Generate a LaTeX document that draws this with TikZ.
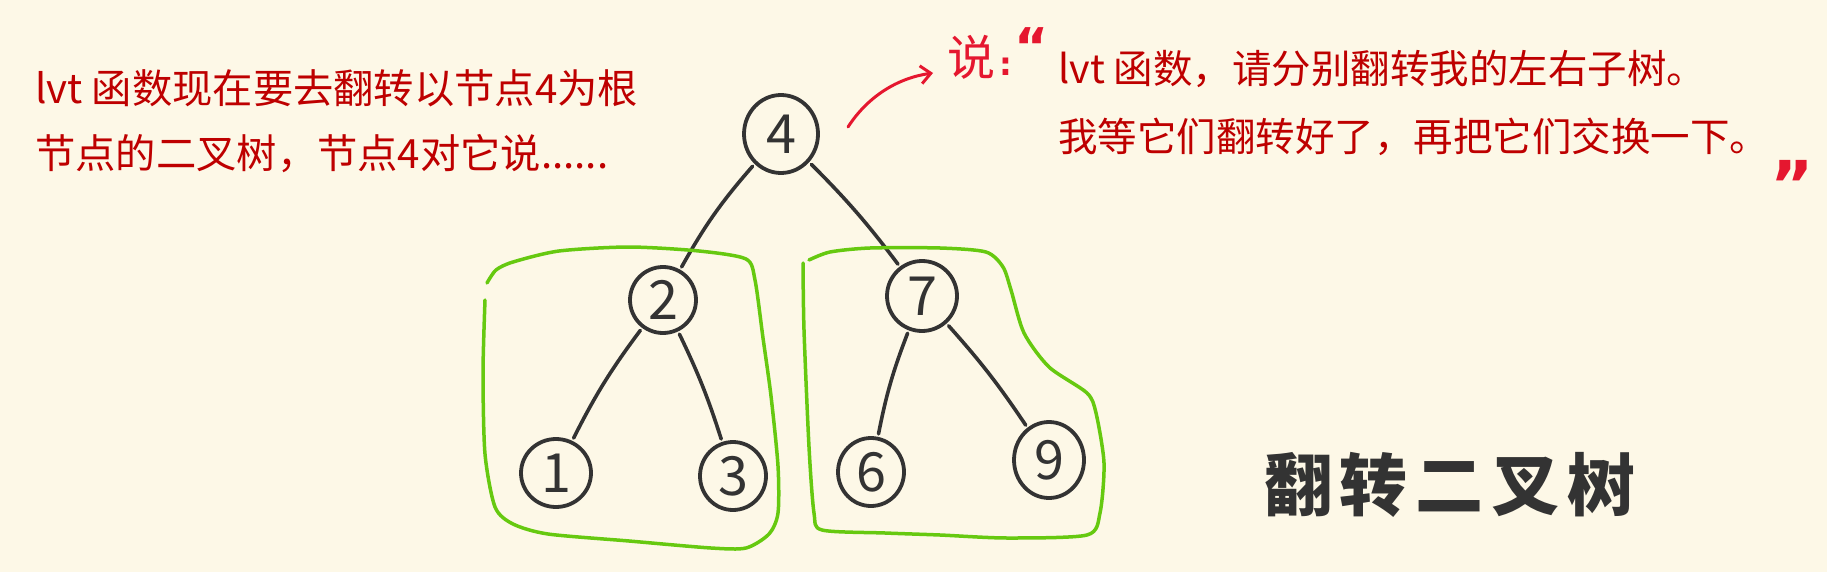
\documentclass[tikz,border=0pt]{standalone}
\usepackage{fontspec}
\setmainfont{Noto Sans CJK SC}
\newfontfamily\cjk{Noto Sans CJK SC}
\newfontfamily\quotefont{DejaVu Sans}
\usetikzlibrary{shapes.geometric,arrows.meta}
\definecolor{bg}{HTML}{FDF8E7}
\definecolor{txtred}{HTML}{BE0000}
\definecolor{hred}{HTML}{E5172F}
\definecolor{ink}{HTML}{333333}
\definecolor{boxgreen}{HTML}{66C910}
\begin{document}
\begin{tikzpicture}[x=1pt,y=-1pt,
  treenode/.style={draw=ink, line width=3.8pt, ellipse, inner sep=0pt, text=ink, font=\cjk\fontsize{54}{54}\selectfont},
  edge/.style={draw=ink, line width=3.6pt, line cap=round, shorten >=3pt, shorten <=3pt},
  grp/.style={draw=boxgreen, line width=3.5pt, line cap=round, line join=round},
  say/.style={text=txtred, font=\cjk\fontsize{40.3}{40.3}\selectfont, anchor=west, inner sep=0pt},
  hand/.style={text=hred, inner sep=0pt},
  title/.style={text=ink, inner sep=0pt, font=\cjk\bfseries\fontsize{68}{68}\selectfont},
]
\fill[bg] (0,0) rectangle (1827,572);
\useasboundingbox (0,0) rectangle (1827,572);

% left text
\node[say] (l1) at (35,88) {lvt 函数现在要去翻转以节点4为根};
\node[say] (l2) at (35,154) {节点的二叉树，节点4对它说......};

% right text
\node[say, font=\cjk\fontsize{39.5}{39.5}\selectfont] (r1) at (1058,69) {lvt 函数，请分别翻转我的左右子树。};
\node[say, font=\cjk\fontsize{39.5}{39.5}\selectfont] (r2) at (1058,137) {我等它们翻转好了，再把它们交换一下。};
\node[hand, font=\cjk\fontsize{48}{48}\selectfont] (shuo) at (971,57) {说};
\node[hand, font=\quotefont\bfseries\fontsize{32}{32}\selectfont] (colon) at (1006,67) {:};
\node[hand, font=\quotefont\bfseries\fontsize{52}{52}\selectfont, anchor=north] (oq) at (1032,27) {“};
\node[hand, font=\quotefont\bfseries\fontsize{66}{66}\selectfont, anchor=north] (cq) at (1792,160) {”};

% arrow
\coordinate (aS) at (848,127);
\coordinate (aE) at (933,73);
\draw[hred, line width=3pt, line cap=round, -{Straight Barb[length=10pt,width=18pt,line width=3pt]}]
  (aS) .. controls (868,96) and (898,78) .. (aE);

% tree
\node[treenode, minimum width=74pt, minimum height=78pt] (n4) at (781,134) {4};
\node[treenode, minimum width=66pt, minimum height=66pt] (n2) at (663,300) {2};
\node[treenode, minimum width=70pt, minimum height=70pt] (n7) at (922,296) {7};
\node[treenode, minimum width=70pt, minimum height=68pt] (n1) at (556,473) {1};
\node[treenode, minimum width=66pt, minimum height=68pt] (n3) at (733,476) {3};
\node[treenode, minimum width=66pt, minimum height=68pt] (n6) at (871,472) {6};
\node[treenode, minimum width=70pt, minimum height=76pt] (n9) at (1049,460) {9};

\draw[edge] (n4) to[bend right=6] (n2);
\draw[edge] (n4) to[bend left=4] (n7);
\draw[edge] (n2) to[bend right=5] (n1);
\draw[edge] (n2) to[bend left=4] (n3);
\draw[edge] (n7) to[bend right=5] (n6);
\draw[edge] (n7) to[bend left=4] (n9);

% green groups
\draw[grp] plot[smooth, tension=0.45] coordinates {
  (487,283) (496,270) (513,262) (559,251) (629,247) (699,251) (746,259) (755,280)
  (763,338) (771,396) (778,466) (778,513) (769,534) (746,548) (711,548)
  (629,541) (548,534) (513,524) (495,507) (485,454) (483,373) (485,300)};
\draw[grp] plot[smooth, tension=0.45] coordinates {
  (809,260) (830,252) (870,248) (940,248) (986,252) (1003,267) (1011,290)
  (1024,333) (1049,367) (1087,393) (1096,413) (1104,463) (1100,513) (1087,535)
  (1007,538) (940,535) (885,533) (822,530) (814,513) (809,447) (804,330) (803,263)};

% title
\node[title] (ttl) at (1450,485) {翻\hspace{8pt}转\hspace{8pt}二\hspace{8pt}叉\hspace{8pt}树};
\end{tikzpicture}
\end{document}
